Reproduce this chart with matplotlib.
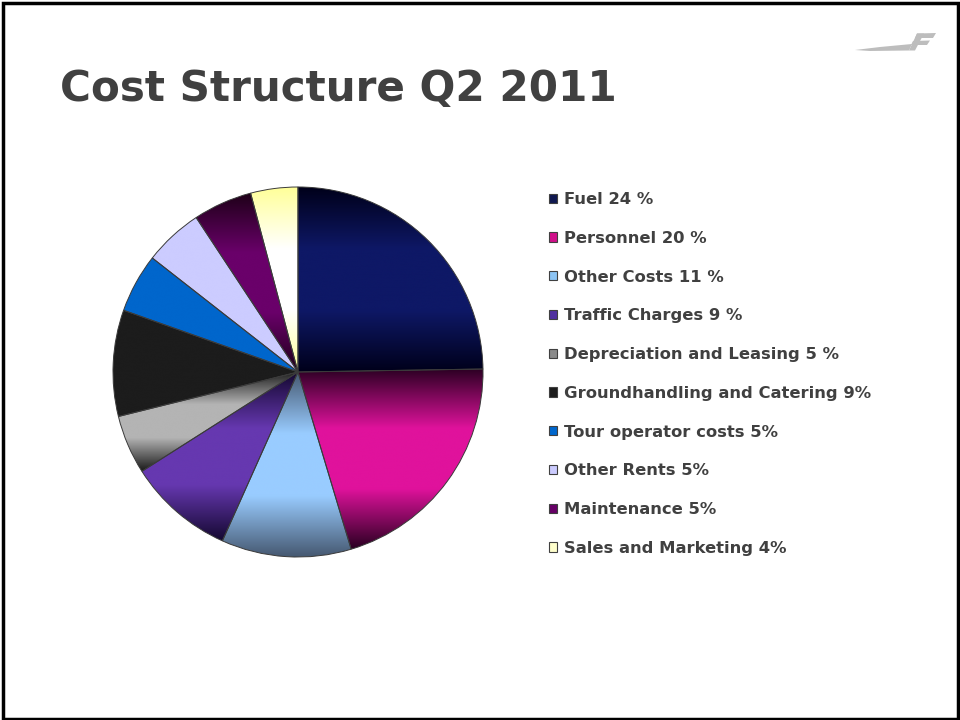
import numpy as np
import matplotlib
matplotlib.use("Agg")
import matplotlib.pyplot as plt
import matplotlib.patches as patches
from matplotlib.colors import LinearSegmentedColormap
from matplotlib.transforms import Affine2D

# cost shares, Q2 2011
labels = ["Fuel 24 %", "Personnel 20 %", "Other Costs 11 %", "Traffic Charges 9 %",
          "Depreciation and Leasing 5 %", "Groundhandling and Catering 9%",
          "Tour operator costs 5%", "Other Rents 5%", "Maintenance 5%",
          "Sales and Marketing 4%"]
shares = [24, 20, 11, 9, 5, 9, 5, 5, 5, 4]

# (edge colour, centre colour) of the vertical gradient in each slice
fills = [("#00001a", "#0e1866"),
         ("#2a0022", "#e0129c"),
         ("#44566e", "#99ccff"),
         ("#140830", "#6638b0"),
         ("#1a1a1a", "#b4b4b4"),
         ("#1c1c1c", "#1c1c1c"),
         ("#0066cc", "#0066cc"),
         ("#ccccff", "#ccccff"),
         ("#1e0018", "#6a006a"),
         ("#ffff99", "#ffffff")]
swatch = ["#101850", "#d0108a", "#8cc4f4", "#5030a0", "#8a8a8a",
          "#1c1c1c", "#0066cc", "#ccccff", "#660066", "#ffffcc"]

W, H = 960, 720
fig = plt.figure(figsize=(9.6, 7.2), dpi=100)
fig.patch.set_facecolor("white")

# slide border
fig.add_artist(patches.Rectangle((2.5 / W, 1.5 / H), (W - 5) / W, (H - 4) / H,
                                 transform=fig.transFigure, fill=False,
                                 edgecolor="black", linewidth=2.5))

fig.text(60 / W, 1 - 89 / H, "Cost Structure Q2 2011", fontsize=30.3,
         fontweight="bold", color="#404040", va="center", ha="left",
         family="DejaVu Sans")

# small airline logo, top right
px = Affine2D().scale(1 / W, -1 / H).translate(0, 1) + fig.transFigure
logo = [
    [(855, 50), (880, 47), (912, 44), (909, 50.5), (870, 51)],
    [(909, 50.5), (917, 33.5), (924, 33.5), (915, 50.5)],
    [(917, 33.5), (936, 33), (933, 38), (915, 38)],
    [(913, 41), (930, 40.5), (927, 45), (911, 45)],
]
for pts in logo:
    fig.add_artist(patches.Polygon(pts, closed=True, transform=px,
                                   facecolor="#bdbdbd", edgecolor="none"))

cx, cy, r = 298, 372, 185
ax = fig.add_axes([(cx - r) / W, 1 - (cy + r) / H, 2 * r / W, 2 * r / H])
wedges, _ = ax.pie(shares, startangle=90, counterclock=False, radius=1,
                   wedgeprops=dict(edgecolor="#3a3a3a", linewidth=0.7))

for w, (c_edge, c_mid) in zip(wedges, fills):
    v = w.get_path().vertices
    x0, x1 = v[:, 0].min(), v[:, 0].max()
    y0, y1 = v[:, 1].min(), v[:, 1].max()
    cmap = LinearSegmentedColormap.from_list("g", [c_edge, c_mid, c_mid, c_edge])
    grad = np.linspace(0, 1, 256).reshape(-1, 1)
    im = ax.imshow(grad, cmap=cmap, extent=[x0, x1, y0, y1], origin="lower",
                   aspect="auto", interpolation="bicubic", zorder=w.get_zorder() - 0.1)
    im.set_clip_path(w)
    w.set_facecolor("none")
ax.set_xlim(-1, 1)
ax.set_ylim(-1, 1)
ax.set_aspect("equal")
ax.axis("off")

handles = [patches.Patch(facecolor=c, edgecolor="#404040", linewidth=0.8) for c in swatch]
leg = fig.legend(handles, labels, loc="upper left",
                 bbox_to_anchor=(549 / W, 1 - 192 / H), frameon=False,
                 handlelength=0.5, handleheight=0.5, handletextpad=0.43,
                 labelspacing=1.45, borderpad=0, borderaxespad=0,
                 prop=dict(family="DejaVu Sans", weight="bold", size=11.8))
for t in leg.get_texts():
    t.set_color("#404040")

fig.savefig("out.png", dpi=100, facecolor="white")
